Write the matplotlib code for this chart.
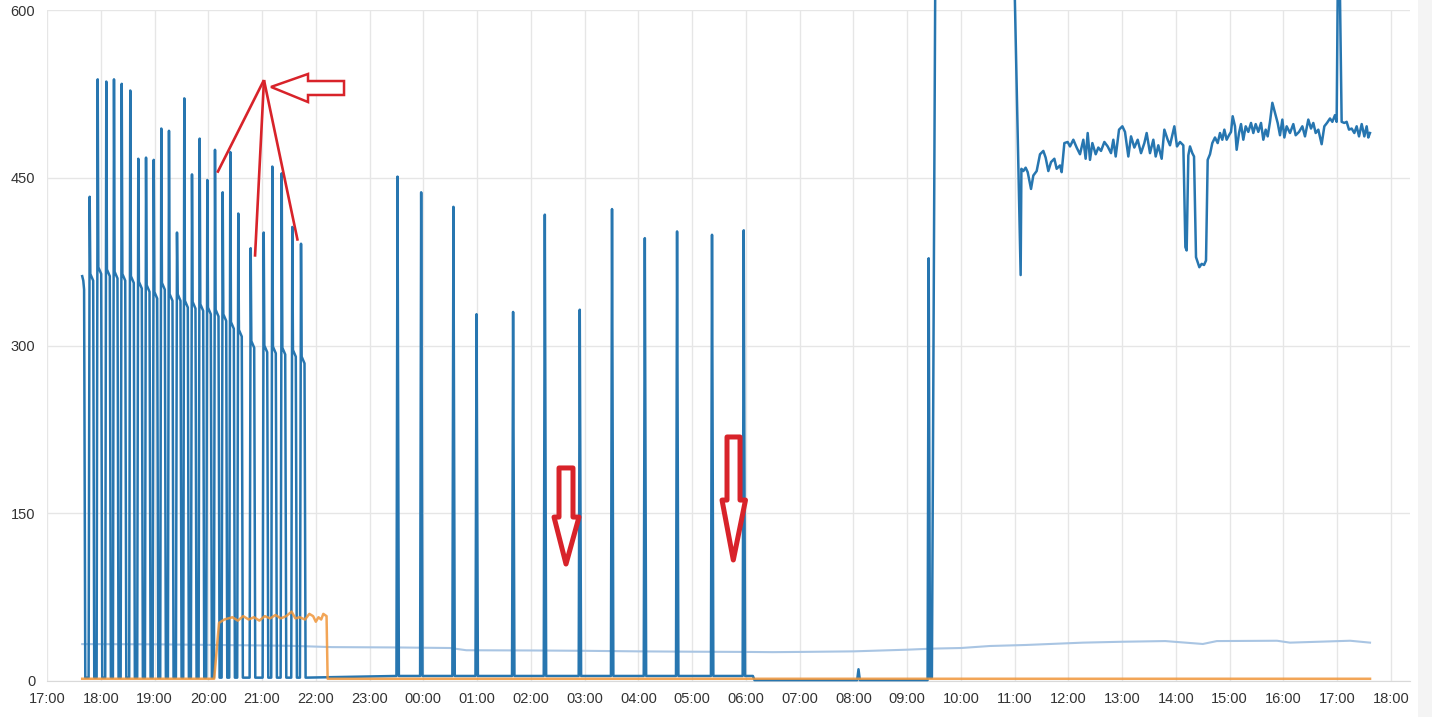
import matplotlib
matplotlib.use("Agg")
import matplotlib.pyplot as plt
from matplotlib.patches import Polygon, Rectangle

# x is hours counted from 17:00 on the first day
hour_labels = ['17:00', '18:00', '19:00', '20:00', '21:00', '22:00', '23:00',
               '00:00', '01:00', '02:00', '03:00', '04:00', '05:00', '06:00',
               '07:00', '08:00', '09:00', '10:00', '11:00', '12:00', '13:00',
               '14:00', '15:00', '16:00', '17:00', '18:00']
y_ticks = [0, 150, 300, 450, 600]

# evening cycles: time of peak, peak value, plateau after the peak
lead_h = [0.655, 0.675, 0.690, 0.712]
lead_v = [362, 358, 350, 3]
cycle_h = [0.794, 0.943, 1.103, 1.246, 1.390, 1.549, 1.698, 1.842, 1.985,
           2.126, 2.269, 2.418, 2.554, 2.697, 2.840, 2.982, 3.125, 3.268,
           3.410, 3.558, 3.789, 4.031, 4.191, 4.366, 4.563, 4.725]
cycle_peak = [433, 538, 536, 538, 534, 528, 467, 468, 466, 494, 492, 401, 521,
              453, 485, 448, 475, 437, 473, 418, 387, 401, 460, 454, 406, 391]
cycle_plateau = [358, 364, 362, 360, 358, 356, 351, 348, 342, 350, 340, 340,
                 334, 333, 331, 328, 326, 322, 315, 308, 298, 294, 293, 292,
                 290, 284]
cycle_low = 3

# night spikes
night_h = [6.520, 6.960, 7.560, 7.990, 8.670, 9.260, 9.910, 10.510, 11.120,
           11.720, 12.370, 12.960]
night_peak = [451, 437, 424, 328, 330, 417, 332, 422, 396, 402, 399, 403]
night_base = 4.5

# morning: idle, a blip, then the jump off the scale
morning_h = [13.13, 13.16, 15.07, 15.095, 15.12, 16.38, 16.40, 16.425, 16.46,
             16.53, 17.99]
morning_v = [4.5, 0.8, 0.8, 10.5, 0.8, 0.8, 378, 3, 3, 700, 640]

# daytime readings after 11:00
day_h = [18.111, 18.125, 18.161, 18.204, 18.242, 18.304, 18.347, 18.409,
         18.471, 18.533, 18.576, 18.626, 18.676, 18.738, 18.781, 18.843,
         18.874, 18.924, 18.986, 19.029, 19.091, 19.153, 19.215, 19.277,
         19.320, 19.358, 19.401, 19.445, 19.507, 19.556, 19.606, 19.668,
         19.730, 19.792, 19.835, 19.879, 19.941, 20.003, 20.052, 20.114,
         20.164, 20.226, 20.288, 20.350, 20.412, 20.455, 20.517, 20.579,
         20.623, 20.672, 20.734, 20.784, 20.846, 20.889, 20.970, 21.019,
         21.075, 21.137, 21.150, 21.175, 21.199, 21.230, 21.261, 21.304,
         21.336, 21.373, 21.435, 21.478, 21.522, 21.559, 21.590, 21.633,
         21.676, 21.726, 21.776, 21.819, 21.862, 21.900, 21.943, 21.986,
         22.024, 22.055, 22.098, 22.129, 22.173, 22.210, 22.253, 22.297,
         22.346, 22.396, 22.439, 22.483, 22.532, 22.582, 22.625, 22.669,
         22.706, 22.749, 22.793, 22.842, 22.892, 22.935, 22.979, 23.016,
         23.059, 23.121, 23.183, 23.227, 23.289, 23.351, 23.400, 23.462,
         23.512, 23.555, 23.599, 23.648, 23.710, 23.760, 23.809, 23.865,
         23.909, 23.958, 23.989, 24.008, 24.051, 24.082, 24.132, 24.175,
         24.219, 24.268, 24.318, 24.361, 24.405, 24.455, 24.504, 24.547,
         24.578, 24.609]
day_v = [363, 458, 456, 459, 455, 440, 452, 456, 471, 474, 468, 456, 464, 467,
         458, 461, 455, 481, 482, 478, 484, 477, 471, 484, 467, 490, 466, 481,
         471, 477, 474, 482, 478, 472, 484, 469, 493, 496, 491, 469, 487, 477,
         484, 472, 481, 490, 472, 484, 469, 479, 467, 493, 484, 479, 496, 478,
         482, 479, 450, 388, 385, 470, 478, 472, 469, 379, 370, 373, 372, 376,
         466, 471, 481, 486, 481, 490, 484, 493, 484, 488, 491, 505, 496, 475,
         490, 498, 484, 496, 491, 499, 490, 498, 491, 499, 484, 493, 487, 500,
         517, 508, 499, 488, 502, 486, 496, 490, 498, 488, 491, 496, 487, 502,
         494, 499, 490, 493, 480, 496, 499, 503, 500, 506, 500, 612, 612, 500,
         499, 500, 493, 494, 490, 496, 487, 498, 487, 496, 486, 490]

# second series (orange)
orange_h = [0.655, 3.11, 3.20, 3.30, 3.45, 3.55, 3.65, 3.75, 3.85, 3.95, 4.05,
            4.15, 4.25, 4.35, 4.45, 4.55, 4.62, 4.70, 4.80, 4.88, 4.95, 5.00,
            5.05, 5.10, 5.14, 5.20, 5.22, 24.61]
orange_v = [2, 2, 52, 55, 57, 54, 58, 55, 57, 54, 58, 56, 59, 56, 58, 62, 56,
            57, 55, 60, 58, 53, 57, 55, 60, 58, 2, 2]

# third series (pale)
pale_h = [0.655, 2.0, 3.2, 4.5, 5.3, 6.5, 7.5, 7.8, 9.0, 10.0, 11.0, 12.0,
          13.0, 13.5, 14.0, 15.0, 16.0, 16.5, 17.0, 17.54, 18.2, 19.27, 20.0,
          20.8, 21.5, 21.76, 22.88, 23.12, 24.24, 24.61]
pale_v = [33.0, 32.8, 32.2, 31.5, 30.3, 30.0, 29.5, 27.5, 27.3, 27.0, 26.5,
          26.2, 26.0, 25.8, 26.0, 26.5, 28.0, 29.0, 29.5, 31.3, 32.2, 34.3,
          35.1, 35.7, 33.1, 35.7, 36.0, 34.3, 36.0, 34.3]

# hand drawn red marks, in data units
pointer_tip = (4.036, 537.4)
pointer_ends = [(3.168, 454.5), (3.869, 379.4), (4.663, 393.7)]
left_arrow = [(4.167, 531.2), (4.855, 542.8), (4.855, 536.5), (5.525, 536.5),
              (5.525, 524.0), (4.855, 524.0), (4.855, 517.7)]
down_arrows = [
    [(9.524, 190.5), (9.784, 190.5), (9.784, 146.6), (9.896, 146.6),
     (9.654, 104.6), (9.431, 146.6), (9.524, 146.6)],
    [(12.649, 218.2), (12.891, 218.2), (12.891, 161.8), (12.993, 161.8),
     (12.766, 108.2), (12.556, 161.8), (12.649, 161.8)],
]

# build the blue line from the readings
blue_h, blue_v = list(lead_h), list(lead_v)
for t, peak, plateau in zip(cycle_h, cycle_peak, cycle_plateau):
    blue_h += [t - 0.02, t, t + 0.012, t + 0.065, t + 0.085]
    blue_v += [cycle_low, peak, plateau + 6, plateau, cycle_low]
for t, peak in zip(night_h, night_peak):
    blue_h += [t - 0.02, t, t + 0.025]
    blue_v += [night_base, peak, night_base]
blue_h += morning_h + day_h
blue_v += morning_v + day_v

plt.rcParams['font.family'] = ['Liberation Sans Narrow', 'Liberation Sans', 'DejaVu Sans']

W, H = 1432, 717
fig = plt.figure(figsize=(W / 100, H / 100), dpi=100)
fig.patch.set_facecolor('white')
ax = fig.add_axes([47 / W, 1 - 681 / H, (1410 - 47) / W, (681 - 10) / H])

ax.plot(pale_h, pale_v, color='#a9c5e3', lw=1.5, zorder=2)
ax.plot(blue_h, blue_v, color='#2776b0', lw=1.8, zorder=3, clip_on=False,
        solid_joinstyle='round')
ax.plot(orange_h, orange_v, color='#f0963a', lw=1.8, alpha=0.85, zorder=4)

red = '#d8232a'
for end in pointer_ends:
    ax.plot([end[0], pointer_tip[0]], [end[1], pointer_tip[1]], color=red,
            lw=1.9, zorder=6, solid_capstyle='butt')
ax.add_patch(Polygon(left_arrow, closed=True, facecolor='white',
                     edgecolor=red, lw=1.8, zorder=6))
for arrow in down_arrows:
    ax.add_patch(Polygon(arrow, closed=True, facecolor='white', edgecolor=red,
                         lw=3.6, joinstyle='round', zorder=6))

ax.set_xlim(0, (1410 - 47) / 53.76)
ax.set_ylim(0, 600)
ax.set_xticks(range(len(hour_labels)))
ax.set_xticklabels(hour_labels)
ax.set_yticks(y_ticks)
ax.set_yticklabels([str(v) for v in y_ticks])
ax.grid(True, color='#e6e6e6', lw=1.0, zorder=0)
ax.set_axisbelow(True)
for side in ['top', 'right', 'left']:
    ax.spines[side].set_visible(False)
ax.spines['bottom'].set_color('#d9d9d9')
ax.tick_params(length=0, labelsize=10.5, labelcolor='#333333')
ax.tick_params(axis='x', pad=8)
ax.tick_params(axis='y', pad=8.5)

fig.add_artist(Rectangle((1418 / W, 0), 14 / W, 1, transform=fig.transFigure,
                         facecolor='#f4f4f4', edgecolor='none'))

fig.savefig('out.png', dpi=100)
